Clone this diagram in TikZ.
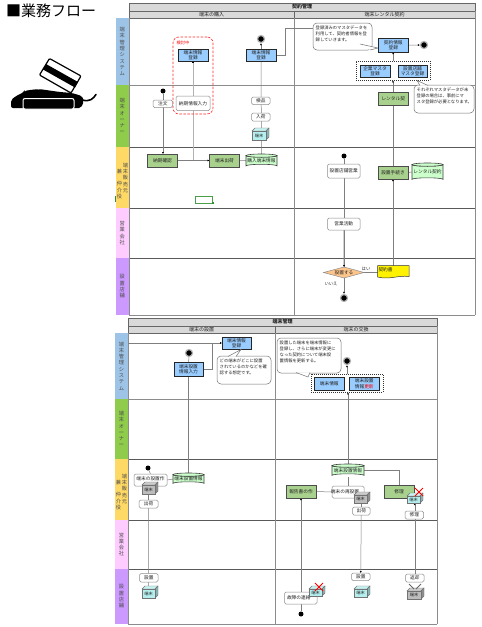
\documentclass[tikz,border=0pt]{standalone}
\usepackage{fontspec}
\setmainfont{Noto Sans CJK JP}
\usetikzlibrary{arrows.meta,calc}
\pgfdeclarelayer{lanes}\pgfdeclarelayer{conn}
\pgfsetlayers{lanes,conn,main}
\definecolor{cBlue}{HTML}{99CCFF}\definecolor{cGreen}{HTML}{A9D18E}\definecolor{cCyl}{HTML}{CCFFCC}
\definecolor{cCube}{HTML}{B5EEEE}\definecolor{cGrey}{HTML}{BDBDBD}\definecolor{cLine}{HTML}{7F7F7F}
\definecolor{lBlue}{HTML}{9DC3E6}\definecolor{lGreen}{HTML}{8FCC4C}\definecolor{lYellow}{HTML}{FFD966}
\definecolor{lPink}{HTML}{FFCCFF}\definecolor{lPurple}{HTML}{CC99FF}\definecolor{cHead}{HTML}{D9D9D9}
\definecolor{cTxt}{HTML}{222222}
\tikzset{
 x=1pt,y=-1pt,
 base/.style={inner sep=0pt,outer sep=0pt,align=center,text=cTxt,font=\fontsize{4.7}{5.5}\selectfont},
 bluebox/.style={base,draw=black!85,line width=.8pt,fill=cBlue},
 greenbox/.style={base,draw=black!70,line width=.8pt,fill=cGreen},
 roundbox/.style={base,draw=black!45,line width=.5pt,fill=white,rounded corners=1.5pt},
 plainbox/.style={base},
 headbox/.style={base,draw=black!60,line width=.5pt,fill=cHead,font=\fontsize{5}{6}\selectfont},
 lanebox/.style={base,draw=black!60,line width=.5pt,font=\fontsize{5.2}{6.3}\selectfont,text=black!70},
 calloutbox/.style={base,draw=black!55,line width=.5pt,fill=white,rounded corners=4pt,align=left,font=\fontsize{4.3}{6}\selectfont},
 dashbox/.style={draw=black!80,line width=.7pt,dash pattern=on 1pt off 1pt,fill=white,inner sep=0pt},
 reddash/.style={draw=red!85,line width=.6pt,dash pattern=on 2.5pt off 1.5pt,rounded corners=6pt,inner sep=0pt},
 conn/.style={draw=cLine,line width=.5pt},
 thickconn/.style={draw=black!30,line width=1pt},
 arr/.style={conn,-{Latex[length=2pt,width=2pt,color=black]}},
 dotstart/.style={circle,fill=black,inner sep=0pt,minimum size=5pt},
 dotend/.style={circle,fill=black,draw=black!30,line width=1.2pt,inner sep=0pt,minimum size=7pt},
 lanerule/.style={draw=black!65,line width=.7pt},
 thinrule/.style={draw=black!45,line width=.5pt},
 xmark/.style={draw=red,line width=1pt},
}
\newcommand{\bx}[7]{\pgfmathsetmacro{\wB}{#5-#3}\pgfmathsetmacro{\hB}{#6-#4}\pgfmathsetmacro{\xB}{(#3+#5)/2}\pgfmathsetmacro{\yB}{(#4+#6)/2}%
 \node[#1,minimum width=\wB pt,minimum height=\hB pt] (#2) at (\xB,\yB) {#7};}
\newcommand{\cyl}[6]{\pgfmathsetmacro{\xB}{(#2+#4)/2}\pgfmathsetmacro{\rX}{(#4-#2)/2}%
 \pgfmathsetmacro{\yT}{#3+1.6}\pgfmathsetmacro{\yC}{#5-1.6}%
 \filldraw[fill=cCyl,draw=black!75,line width=.6pt] (#2,\yT) -- (#2,\yC) arc[start angle=180,end angle=360,x radius=\rX pt,y radius=-1.6pt] -- (#4,\yT) arc[start angle=0,end angle=180,x radius=\rX pt,y radius=-1.6pt] -- cycle;
 \draw[black!75,line width=.6pt,fill=cCyl] (\xB,\yT) ellipse[x radius=\rX pt,y radius=1.6pt];
 \bx{plainbox}{#1}{#2}{#3}{#4}{#5}{\raisebox{-1pt}{#6}}}
\newcommand{\cube}[6]{\pgfmathsetmacro{\xF}{#4-3}\pgfmathsetmacro{\yF}{#3+3}\pgfmathsetmacro{\xC}{#2+3}\pgfmathsetmacro{\yD}{#5-3}%
 \filldraw[fill=#6!75!white,draw=black!55,line width=.4pt] (#2,\yF) -- (\xC,#3) -- (#4,#3) -- (\xF,\yF) -- cycle;
 \filldraw[fill=#6!75!black,draw=black!55,line width=.4pt] (\xF,\yF) -- (#4,#3) -- (#4,\yD) -- (\xF,#5) -- cycle;
 \bx{base,fill=#6,draw=black!55,line width=.4pt,font=\fontsize{4.2}{5}\selectfont}{#1}{#2}{\yF}{\xF}{#5}{端末}}
\newcommand{\callout}[9]{\bx{calloutbox}{#1}{#2}{#3}{#4}{#5}{}%
 \fill[white] #6 -- #8 -- #7 -- cycle; \draw[black!55,line width=.5pt] #6 -- #8 -- #7;
 \node[anchor=north west,inner sep=0pt,align=left,text=cTxt,font=\fontsize{4.3}{6}\selectfont] at ($(#1.north west)+(2.5,2.5)$) {#9};}
\newcommand{\xx}[3]{\draw[#3] ($(#1,#2)+(-4,-4)$) -- ($(#1,#2)+(4,4)$) ($(#1,#2)+(-4,4)$) -- ($(#1,#2)+(4,-4)$);}
\begin{document}
\begin{tikzpicture}
\useasboundingbox (0,0) rectangle (482,627);
\begin{pgfonlayer}{lanes}
\fill[white] (0,0) rectangle (482,627);
\end{pgfonlayer}
% title
\node[anchor=west,inner sep=0pt,font=\fontsize{15}{15}\selectfont] (title) at (6,11) {■業務フロー};
% icon
\filldraw[fill=white,draw=black,line width=1.2pt,rounded corners=1pt] (49.5,58.5) -- (81,76) -- (71,93) -- (39.5,75) -- cycle;
\fill[black] (46,64) -- (78,82) -- (75,87.5) -- (43,69.5) -- cycle;
\fill[black,rounded corners=2pt] (11,108) -- (11,100) -- (16,96) -- (24,92) -- (25,90) -- (29,91) -- (32,89) -- (36,90) -- (39,89) -- (60,92) -- (72,93) -- (82,96) -- (84,101) -- (81,108) -- cycle;
\draw[black,line width=1.6pt,line cap=round] (82,100) .. controls (90,102) and (93,99) .. (96,94.5);
\filldraw[fill=black,draw=white,line width=1pt,rounded corners=2pt] (23,98.5) rectangle (74,109);
% first table
\begin{pgfonlayer}{lanes}
\bx{headbox}{h1}{129}{3}{475}{11}{\textbf{契約管理}}
\bx{headbox}{h1a}{129}{11}{294}{18}{端末の購入}
\bx{headbox}{h1b}{294}{11}{475}{18}{端末レンタル契約}
\bx{lanebox,fill=lBlue,draw=none}{l1}{115.5}{18}{129}{85}{端\\末\\管\\理\\シ\\ス\\テ\\ム}
\bx{lanebox,fill=lGreen,draw=none}{l2}{115.5}{85}{129}{147}{端\\末\\オ\\ー\\ナ\\ー}
\bx{lanebox,fill=lYellow,draw=none}{l3}{115.5}{147}{129}{208}{}
\node[base,font=\fontsize{5.2}{6.3}\selectfont,text=black!70] (l3a) at (125.5,178) {端\\末\\販\\売\\元};
\node[base,font=\fontsize{5.2}{6.3}\selectfont,text=black!70] (l3b) at (119.5,184) {兼\\~\\仲\\介\\役};
\bx{lanebox,fill=lPink,draw=none}{l4}{115.5}{208}{129}{258}{営\\業\\会\\社}
\bx{lanebox,fill=lPurple,draw=none}{l5}{115.5}{258}{129}{315}{設\\置\\店\\舗}
\draw[thinrule] (l1.south east) -- (475,85);
\draw[lanerule] (l2.south east) -- (475,147);
\draw[lanerule] (l3.south east) -- (475,208);
\draw[lanerule] (l4.south east) -- (475,258);
\draw[thinrule] (l5.south east) -- (475,315);
\draw[thinrule] (l1.north east) -- (l5.south east);
\draw[thinrule] (h1a.south east) -- (294,315);
\draw[thinrule] (h1.south east) -- (475,315);
\end{pgfonlayer}
% first table nodes
\node[reddash,minimum width=40pt,minimum height=77pt] (study) at (193,75.5) {};
\node[anchor=center,inner sep=0pt,text=red,font=\fontsize{4.2}{5}\selectfont] (studyt) at (183,43) {検討中};
\bx{bluebox}{a1}{178}{49}{208}{61.5}{端末情報\\登録}
\bx{roundbox}{a2}{176}{96}{210}{110.5}{納期情報入力}
\node[dotstart] (s1) at (163,91) {};
\bx{roundbox}{a3}{153}{100}{172.5}{107.5}{注文}
\bx{greenbox}{a4}{147.5}{154}{177.5}{167}{納期確認}
\bx{greenbox}{a5}{209.5}{154}{239.5}{167}{端末出荷}
\cyl{a6}{246}{154}{277}{167.5}{購入端末情報}
\node[dotend] (e2) at (261,39) {};
\bx{bluebox}{b1}{246}{49}{276}{61.5}{端末情報\\登録}
\bx{roundbox}{b2}{251.5}{97}{270}{104.5}{検品}
\bx{roundbox}{b3}{251.5}{113}{270}{121}{入荷}
\cube{b4}{252}{128}{269}{140}{cCube}
\callout{c1}{313}{23}{372}{50}{(360,44)}{(370,50)}{(378,48)}{登録済みのマスタデータを\\利用して、契約者情報を登\\録していきます。}
\bx{bluebox}{d1}{378.5}{38.5}{408}{52}{契約情報\\登録}
\node[dotend] (e3) at (424,45) {};
\node[dashbox,minimum width=74pt,minimum height=19pt] (dash1) at (393,70.5) {};
\bx{bluebox}{d2}{360}{65}{390}{77}{企業マスタ\\登録}
\bx{bluebox}{d3}{398}{65}{427}{77}{設置店舗\\マスタ登録}
\bx{greenbox}{d4}{378.5}{92.5}{408}{105}{レンタル契}
\callout{c2}{414}{85}{474}{113}{(420,85.5)}{(428,85.5)}{(417,80.5)}{それぞれマスタデータが未\\登録の場合は、事前にマ\\スタ登録が必要となります。}
\node[dotstart] (s4) at (344,156) {};
\bx{roundbox}{f1}{327.5}{164}{360}{178}{設置店舗営業}
\bx{greenbox}{d5}{378}{166}{408}{179}{設置手続き}
\cyl{d6}{412}{163}{443}{181}{レンタル契約}
\bx{roundbox}{f2}{327.5}{218}{360}{230}{営業活動}
\filldraw[fill=orange!45!white,draw=black!45,line width=.5pt] (323.5,272.5) -- (344,267) -- (364,272.5) -- (344,278) -- cycle;
\coordinate (f3w) at (323.5,272.5); \coordinate (f3e) at (364,272.5); \coordinate (f3n) at (344,267); \coordinate (f3s) at (344,278);
\node[base] (f3) at (344,272.5) {設置する};
\node[base,font=\fontsize{4.3}{5}\selectfont] (yes) at (366,269) {はい};
\node[base,font=\fontsize{4.3}{5}\selectfont] (no) at (331,284) {いいえ};
\filldraw[fill=yellow,draw=black!80,line width=.5pt] (377.5,265.5) -- (409,265.5) -- (409,276.5) .. controls (398,275) and (390,280) .. (377.5,277) -- cycle;
\node[base,anchor=west] (d7) at (378.5,270) {契約書};
\coordinate (d7n) at (393,265.5); \coordinate (d7w) at (377.5,272.5);
\node[dotend] (e5) at (344,298) {};
\node[draw=green!45!black!70,line width=.6pt,fill=white,minimum width=17.5pt,minimum height=7pt,inner sep=0pt] (sel) at (204,199.5) {};
\fill[green!45!black!80] (212,202) rectangle (213.5,203.5);
\fill[green!45!black!80] (115,196) rectangle (116,202);
\begin{pgfonlayer}{conn}
\draw[arr] (s1) -- (s1 |- a4.north);
\draw[thickconn] (a1.south) -- (a1 |- a4.east);
\fill[black] ($(a1.south)+(-.8,0)$) rectangle ($(a1.south)+(.8,1.6)$);
\draw[thickconn] (a4.east) -- (a5.west);
\draw[arr] (a4.east) -- (a5.west);
\draw[conn] (a5.east) -- (a6.west);
\draw[conn] (a6.north) -- (b1.south);
\draw[arr] (b1.north) -- (e2.south);
\draw[conn] (b1.east) -- (285,55.25) -- (285,28) -- (c1.west |- 0,28);
\draw[arr] (d1.east) -- (e3.west);
\draw[arr] (d2.east) -- (d3.west);
\draw[arr] (dash1.north -| d1) -- (d1.south);
\draw[arr] (d5.north) -- (dash1.south -| d5);
\draw[conn] (s4) -- (f3n);
\draw[arr] (f2.south) -- (f3n);
\draw[conn] (f3e) -- (d7w);
\draw[arr] (f3s) -- (e5.north);
\draw[arr] (d7n) -- (d5.south);
\draw[conn] (d5.east) -- (d6.west);
\end{pgfonlayer}
% second table
\begin{pgfonlayer}{lanes}
\bx{headbox}{h2}{128}{318}{437}{326}{\textbf{端末管理}}
\bx{headbox}{h2a}{128}{326}{275}{333}{端末の設置}
\bx{headbox}{h2b}{275}{326}{437}{333}{端末の交換}
\bx{lanebox,fill=lBlue,draw=none}{m1}{115}{333}{128}{399}{端\\末\\管\\理\\シ\\ス\\テ\\ム}
\bx{lanebox,fill=lGreen,draw=none}{m2}{115}{399}{128}{459}{端\\末\\オ\\ー\\ナ\\ー}
\bx{lanebox,fill=lYellow,draw=none}{m3}{115}{459}{128}{520}{}
\node[base,font=\fontsize{5.2}{6.3}\selectfont,text=black!70] (m3a) at (124.5,489) {端\\末\\販\\売\\元};
\node[base,font=\fontsize{5.2}{6.3}\selectfont,text=black!70] (m3b) at (118.5,495) {兼\\~\\仲\\介\\役};
\bx{lanebox,fill=lPink,draw=none}{m4}{115}{520}{128}{569}{営\\業\\会\\社}
\bx{lanebox,fill=lPurple,draw=none}{m5}{115}{569}{128}{624}{設\\置\\店\\舗}
\draw[thinrule] (m1.south east) -- (437,399);
\draw[lanerule] (m2.south east) -- (437,459);
\draw[lanerule] (m3.south east) -- (437,520);
\draw[lanerule] (m4.south east) -- (437,569);
\draw[thinrule] (m5.south east) -- (437,624);
\draw[thinrule] (m1.north east) -- (m5.south east);
\draw[thinrule] (h2a.south east) -- (275,624);
\draw[thinrule] (h2.south east) -- (437,624);
\end{pgfonlayer}
\bx{bluebox}{p1}{222}{337}{251}{349}{端末情報\\登録}
\node[dotend] (e6) at (189,353) {};
\bx{bluebox}{p2}{174}{362.5}{203}{376}{端末設置\\情報入力}
\callout{c3}{217}{356}{271}{384}{(228,356.5)}{(236,356.5)}{(241,349.5)}{どの端末がどこに設置\\されているのかなどを確\\認する想定です。}
\callout{c4}{277}{338}{341}{373}{(296,372.5)}{(310,372.5)}{(308,377)}{設置した端末を端末情報に\\登録し、さらに端末が変更に\\なった契約について端末設\\置情報を更新する。}
\node[dotend] (e7) at (347,361) {};
\node[dashbox,minimum width=72pt,minimum height=18pt] (dash2) at (347,383) {};
\bx{bluebox}{q1}{314.5}{377.5}{344}{390}{端末情報}
\bx{bluebox}{q2}{349.5}{377.5}{379}{390}{端末設置\\情報\textcolor{red}{更新}}
\cyl{q3}{332}{464}{364}{477}{端末設置情報}
\bx{greenbox}{r1}{384}{485}{414}{498}{修理}
\cube{r2}{407}{493}{423}{503}{cCube}
\xx{419}{492}{xmark}
\bx{roundbox}{r3}{405}{511}{423.5}{519}{修理}
\bx{roundbox}{r4}{405.5}{574}{424}{582}{返却}
\cube{r5}{407}{588}{424}{599}{cGrey}
\draw[black!60,line width=.8pt] (409,584) -- (414,589) (421,584) -- (416,589);
\bx{greenbox}{t1}{286}{485}{316}{498}{報告書の作}
\bx{roundbox}{t2}{332}{486}{364}{498}{\hspace*{-6pt}端末の再設置}
\cube{t3}{354}{492}{370}{503}{cGrey}
\bx{roundbox}{t4}{352.5}{507}{370}{515}{出荷}
\bx{roundbox}{t5}{351.5}{573}{370}{580.5}{設置}
\cube{t6}{354}{586}{370}{597}{cCube}
\bx{roundbox}{u1}{284.5}{592}{317}{604}{\hspace*{-4pt}故障の連絡}
\node[dotstart] (s8) at (301,614) {};
\cube{u2}{309}{586}{325}{596}{cCube}
\xx{319}{587}{xmark}
\node[dotstart] (s9) at (148,468) {};
\bx{roundbox}{v1}{134}{474}{167}{486}{\raisebox{3pt}{端末の設置作}}
\cube{v2}{142}{482}{158}{494}{cGrey}
\bx{roundbox}{v3}{139}{500}{158}{508}{出荷}
\bx{roundbox}{v4}{139.5}{573.5}{158}{582}{設置}
\cube{v5}{142}{586}{158}{598}{cCube}
\cyl{v6}{173}{473}{204}{485}{端末設置情報}
\begin{pgfonlayer}{conn}
\draw[conn] (p2.north) -- (e6.south);
\draw[conn] (p2.south) -- (v6.north);
\draw[conn] (p2.east) -- (212,369.25) -- (212,342.5);
\draw[arr] (m1.east |- p1.west) -- (p1.west);
\draw[conn] (v1.east) -- (v6.west);
\draw[conn] (s9) -- (v1.north);
\draw[conn] (v2.south) -- (v3.north);
\draw[conn] (v3.south) -- (v4.north);
\draw[arr] (v4.south) -- (v5.north);
\draw[arr] (dash2.north -| e7) -- (e7.south);
\draw[arr] (q3.north) -- (dash2.south -| q3);
\draw[conn] (q3.south) -- (t2.north);
\draw[conn] (q3.east |- 0,470) -- (399,470) -- (r1.north);
\draw[conn] (t1.east) -- (t2.west);
\draw[arr] (s8) -- (t1.south);
\draw[arr] (t4.south) -- (t5.north);
\draw[arr] (r4.north) -- (r2.south -| r4);
\draw[conn] (t3.south -| t4) -- (t4.north);
\end{pgfonlayer}
\end{tikzpicture}
\end{document}
